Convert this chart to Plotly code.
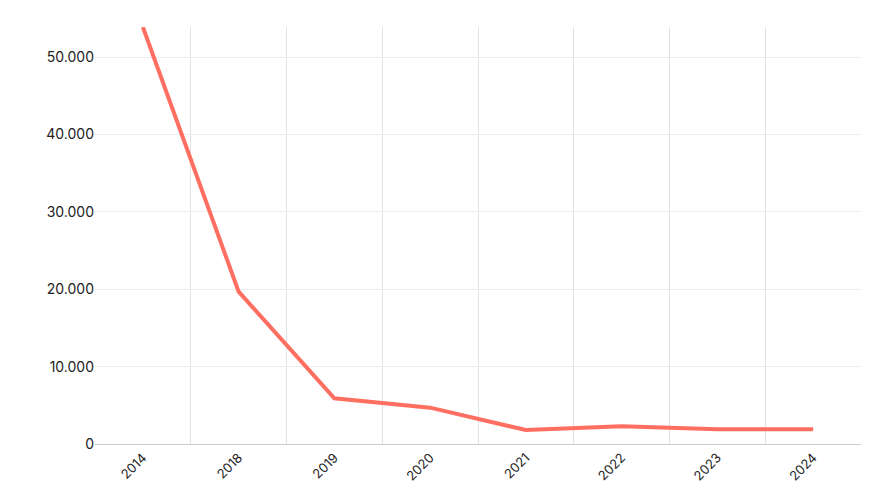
import plotly.graph_objects as go

years = ["2014", "2018", "2019", "2020", "2021", "2022", "2023", "2024"]
values = [53900, 19700, 5900, 4700, 1800, 2300, 1900, 1900]

fig = go.Figure()
fig.add_trace(go.Scatter(x=years, y=values, mode="lines",
                         line=dict(color="#ff6f61", width=4)))

fig.update_layout(
    width=873, height=500,
    margin=dict(l=87, r=20, t=19, b=64),
    plot_bgcolor="white", paper_bgcolor="white",
    showlegend=False,
    separators=",.",
    font=dict(family="Inter", size=14, color="#222"),
)
fig.update_xaxes(type="category", range=[-0.5, len(years) - 0.5],
                 tickson="boundaries", ticks="", automargin=False,
                 tickangle=-45, showgrid=True, gridcolor="#e2e2e2",
                 showline=True, linecolor="#cccccc", tickfont=dict(size=13))
fig.update_yaxes(range=[0, 53900], tickvals=[0, 10000, 20000, 30000, 40000, 50000],
                 tickformat=",", showgrid=True, gridcolor="#ececec", automargin=False,
                 zeroline=False, ticks="", ticklen=0, tickfont=dict(size=14))

fig.write_html("out.html")
